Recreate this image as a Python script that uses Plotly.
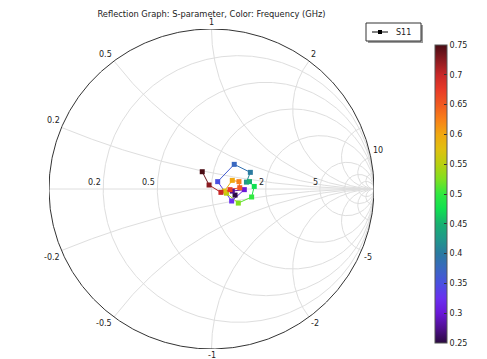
import numpy as np
import plotly.graph_objects as go

# ---------------- data ----------------
freq_ghz = [0.250, 0.275, 0.300, 0.325, 0.350, 0.375, 0.400, 0.425, 0.450, 0.475,
            0.500, 0.525, 0.550, 0.575, 0.600, 0.625, 0.650, 0.675, 0.700, 0.725, 0.750]
s11_re = [0.145, 0.128, 0.202, 0.124, 0.038, 0.140, 0.239, 0.215, 0.234, 0.263,
          0.247, 0.165, 0.092, 0.079, 0.128, 0.169, 0.174, 0.114, 0.058, -0.015, -0.057]
s11_im = [-0.038, -0.013, -0.004, -0.075, 0.046, 0.154, 0.104, 0.043, 0.046, 0.016,
          -0.050, -0.088, -0.026, -0.013, 0.054, 0.046, 0.008, -0.004, -0.021, 0.025, 0.108]

real_grid = [0.2, 0.5, 1, 2, 5, 10, 20]
imag_grid = [0.2, 0.5, 1, 2, 5, 10, 20]
real_labels = [0.2, 0.5, 2, 5]
imag_labels_top = [0.2, 0.5, 1, 2, 10]
imag_labels_bottom = [-0.2, -0.5, -1, -2, -5]
cbar_ticks = [0.25, 0.3, 0.35, 0.4, 0.45, 0.5, 0.55, 0.6, 0.65, 0.7, 0.75]
legend_name = "S11"

cmap_colors = ["#2a0a40", "#501090", "#6a18d8", "#6a30f0", "#4a50e0", "#3a68c0",
               "#2a7aa0", "#20988a", "#18b070", "#10e050", "#30e840", "#80e020",
               "#b8d010", "#e0c010", "#f0a810", "#f88018", "#f05a20", "#e83a28",
               "#c82828", "#8a1a20", "#4a0c14"]
cmin, cmax = 0.25, 0.75
colorscale = [[i / (len(cmap_colors) - 1), c] for i, c in enumerate(cmap_colors)]

GRID = "#dedede"
TXT = "#222222"
FONT = "DejaVu Sans"

# plot-area geometry (pixels)
L, R, T, B = 49, 113, 29, 10
PW, PH = 487 - L - R, 359 - T - B


def px(xpix):
    return (xpix - L) / PW


def py(ypix):
    return (359 - B - ypix) / PH


def hex2rgb(h):
    h = h.lstrip("#")
    return [int(h[i:i + 2], 16) for i in (0, 2, 4)]


def sample(v):
    t = (v - cmin) / (cmax - cmin)
    t = min(max(t, 0), 1) * (len(cmap_colors) - 1)
    i = int(np.floor(t))
    if i >= len(cmap_colors) - 1:
        return cmap_colors[-1]
    f = t - i
    a, b = hex2rgb(cmap_colors[i]), hex2rgb(cmap_colors[i + 1])
    c = [round(a[k] + (b[k] - a[k]) * f) for k in range(3)]
    return "rgb(%d,%d,%d)" % tuple(c)


fig = go.Figure()

# ---------------- Smith grid ----------------
th = np.linspace(0, 2 * np.pi, 721)
for r in real_grid:
    cx, rad = r / (r + 1), 1 / (r + 1)
    fig.add_trace(go.Scatter(x=cx + rad * np.cos(th), y=rad * np.sin(th), mode="lines",
                             line=dict(color=GRID, width=1), hoverinfo="skip", showlegend=False))
rr = np.concatenate([[0], np.logspace(-3, 5, 600)])
for xv in imag_grid:
    for s in (1, -1):
        z = rr + 1j * s * xv
        g = (z - 1) / (z + 1)
        fig.add_trace(go.Scatter(x=g.real, y=g.imag, mode="lines",
                                 line=dict(color=GRID, width=1), hoverinfo="skip", showlegend=False))
fig.add_trace(go.Scatter(x=[-1, 1], y=[0, 0], mode="lines", line=dict(color=GRID, width=1),
                         hoverinfo="skip", showlegend=False))
fig.add_trace(go.Scatter(x=np.cos(th), y=np.sin(th), mode="lines", line=dict(color="#333333", width=1),
                         hoverinfo="skip", showlegend=False))

# ---------------- data segments ----------------
for i in range(len(freq_ghz) - 1):
    fig.add_trace(go.Scatter(x=[s11_re[i], s11_re[i + 1]], y=[s11_im[i], s11_im[i + 1]],
                             mode="lines", line=dict(color=sample(0.5 * (freq_ghz[i] + freq_ghz[i + 1])), width=1),
                             hoverinfo="skip", showlegend=False))

CB_X0, CB_TOP, CB_BOT, CB_W = 435, 45, 343, 12
fig.add_trace(go.Scatter(
    x=s11_re, y=s11_im, mode="markers", showlegend=False, name=legend_name,
    marker=dict(symbol="square", size=5, color=freq_ghz, colorscale=colorscale, cmin=cmin, cmax=cmax,
                line=dict(width=0),
                colorbar=dict(x=px(CB_X0), xanchor="left", y=py(CB_TOP), yanchor="top",
                              len=(CB_BOT - CB_TOP) / PH, lenmode="fraction", thickness=CB_W, xpad=0, ypad=0,
                              outlinewidth=1, outlinecolor="#555555",
                              tickvals=cbar_ticks, ticktext=[("%g" % v) for v in cbar_ticks],
                              ticks="inside", ticklen=3, tickcolor="#333333",
                              tickfont=dict(family=FONT, size=8, color=TXT))),
))

shapes = []
# left-side colorbar tick marks
for v in cbar_ticks[1:-1]:
    yy = CB_BOT - (v - cmin) / (cmax - cmin) * (CB_BOT - CB_TOP)
    shapes.append(dict(type="line", xref="paper", yref="paper", x0=px(CB_X0), x1=px(CB_X0 + 3),
                       y0=py(yy), y1=py(yy), line=dict(color="#333333", width=1)))

# legend box (with drop shadow)
LX0, LX1, LY0, LY1 = 366, 421, 23, 41
shapes.append(dict(type="rect", xref="paper", yref="paper", x0=px(LX0 + 2), x1=px(LX1 + 2),
                   y0=py(LY0 + 2), y1=py(LY1 + 2), fillcolor="#9a9a9a", line=dict(width=0)))
shapes.append(dict(type="rect", xref="paper", yref="paper", x0=px(LX0), x1=px(LX1),
                   y0=py(LY0), y1=py(LY1), fillcolor="white", line=dict(color="#333333", width=1)))
ly = (LY0 + LY1) / 2
shapes.append(dict(type="line", xref="paper", yref="paper", x0=px(372), x1=px(388),
                   y0=py(ly), y1=py(ly), line=dict(color="black", width=1)))
shapes.append(dict(type="rect", xref="paper", yref="paper", x0=px(378), x1=px(382),
                   y0=py(ly - 2), y1=py(ly + 2), fillcolor="black", line=dict(width=0)))

# ---------------- labels ----------------
ann = []
for r in real_labels:
    ann.append(dict(x=(r - 1) / (r + 1), y=0, text="%g" % r, xanchor="right", yanchor="bottom",
                    showarrow=False, font=dict(family=FONT, size=8, color=TXT)))
for xv in imag_labels_top + imag_labels_bottom:
    g = (1j * xv - 1) / (1j * xv + 1)
    if abs(abs(xv) - 1) < 1e-9:
        xa = "center"
    elif abs(xv) < 1:
        xa = "right"
    else:
        xa = "left"
    ya = "bottom" if xv > 0 else "top"
    ann.append(dict(x=g.real, y=g.imag, text="%g" % xv, xanchor=xa, yanchor=ya, showarrow=False,
                    font=dict(family=FONT, size=8, color=TXT)))
ann.append(dict(xref="paper", yref="paper", x=px(394), y=py(ly), text=legend_name, xanchor="left",
                yanchor="middle", showarrow=False, font=dict(family=FONT, size=8, color=TXT)))

fig.update_layout(
    width=487, height=359,
    margin=dict(l=L, r=R, t=T, b=B),
    paper_bgcolor="white", plot_bgcolor="white",
    xaxis=dict(range=[-1, 1], visible=False, fixedrange=True),
    yaxis=dict(range=[-1, 1], visible=False, fixedrange=True),
    title=dict(text="Reflection Graph: S-parameter, Color: Frequency (GHz)", x=211.5 / 487, xanchor="center",
               y=1 - 14.5 / 359, yanchor="middle", font=dict(family=FONT, size=8.3, color=TXT)),
    annotations=ann,
    shapes=shapes,
    showlegend=False,
)

fig.write_html("out.html", config={"displayModeBar": False},
               post_script="document.body.style.margin='0';")
